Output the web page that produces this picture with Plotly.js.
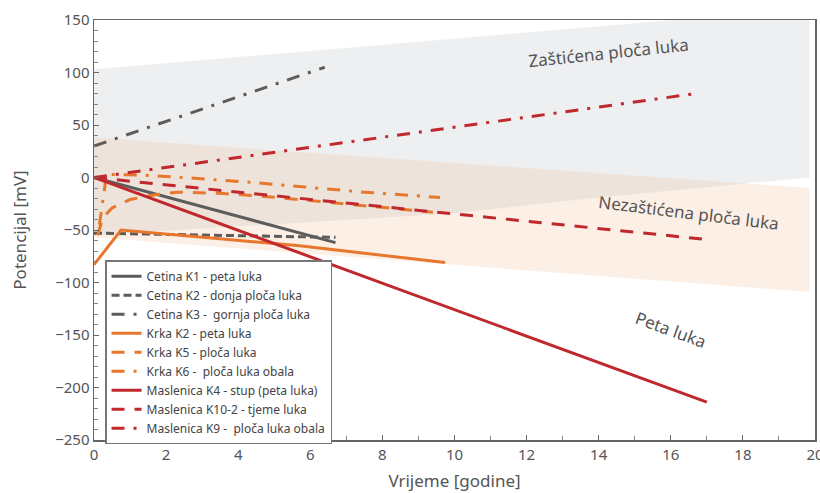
<!DOCTYPE html>
<html>
<head>
<meta charset="utf-8">
<script src="https://cdn.plot.ly/plotly-3.0.1.min.js"></script>
<style>html,body{margin:0;padding:0;background:#fff;}#chart{width:820px;height:493px;}</style>
</head>
<body>
<div id="chart"></div>
<script>
// Background zones
const zoneProtX = [0, 19.85, 19.85, 14, 10, 0];
const zoneProtY = [103, 161, 0, -19, -34, -55];
const zoneUnprotX = [0, 19.85, 19.85, 0];
const zoneUnprotY = [38, -10, -109, -57];

// Series
const cetinaK1X = [0, 6.7];
const cetinaK1Y = [0, -62];
const cetinaK2X = [0, 6.7];
const cetinaK2Y = [-53, -57];
const cetinaK3X = [0, 6.4];
const cetinaK3Y = [30, 105];
const krkaK2X = [0, 0.75, 5.7, 9.74];
const krkaK2Y = [-83, -50, -65, -81];
const krkaK5X = [0.1, 0.25, 0.5, 1, 1.6, 2.3, 3.5, 4.9, 6.3, 7.5, 8.8, 9.4];
const krkaK5Y = [-55, -38, -29, -21, -17, -14, -15, -18.5, -23, -27, -31, -33];
const krkaK6X = [0.15, 0.35, 1.5, 2.5, 4.5, 5.9, 7.5, 9.6];
const krkaK6Y = [-45, 3, 2, 0, -5, -9, -14, -19];
const maslK4X = [0, 17];
const maslK4Y = [0, -214];
const maslK10X = [0, 2.5, 4.3, 9.8, 17];
const maslK10Y = [0, -9, -15, -34, -59];
const maslK9X = [0, 16.7];
const maslK9Y = [0, 80];

const names = [
  'Cetina K1 - peta luka',
  'Cetina K2 - donja ploča luka',
  'Cetina K3 -  gornja ploča luka',
  'Krka K2 - peta luka',
  'Krka K5 - ploča luka',
  'Krka K6 -  ploča luka obala',
  'Maslenica K4 - stup (peta luka)',
  'Maslenica K10-2 - tjeme luka',
  'Maslenica K9 -  ploča luka obala'
];
const zoneLabels = ['Zaštićena ploča luka', 'Nezaštićena ploča luka', 'Peta luka'];

const GREY = '#5c5c5c', ORANGE = '#e8772e', RED = '#c0282d';
const W = 3;

function line(x, y, name, color, dash) {
  return {x: x, y: y, name: name, type: 'scatter', mode: 'lines',
    line: {color: color, width: W, dash: dash}, hoverinfo: 'skip'};
}

const traces = [
  {x: zoneProtX, y: zoneProtY, type: 'scatter', mode: 'lines', fill: 'toself',
   fillcolor: 'rgba(200,205,212,0.32)', line: {width: 0}, showlegend: false, hoverinfo: 'skip'},
  {x: zoneUnprotX, y: zoneUnprotY, type: 'scatter', mode: 'lines', fill: 'toself',
   fillcolor: 'rgba(244,190,150,0.25)', line: {width: 0}, showlegend: false, hoverinfo: 'skip'},
  line(cetinaK1X, cetinaK1Y, names[0], GREY, 'solid'),
  line(cetinaK2X, cetinaK2Y, names[1], GREY, '8px,4px'),
  line(cetinaK3X, cetinaK3Y, names[2], GREY, '13px,9px,3px,9px'),
  line(krkaK2X, krkaK2Y, names[3], ORANGE, 'solid'),
  line(krkaK5X, krkaK5Y, names[4], ORANGE, '13px,10px'),
  line(krkaK6X, krkaK6Y, names[5], ORANGE, '13px,9px,3px,9px'),
  line(maslK4X, maslK4Y, names[6], RED, 'solid'),
  line(maslK10X, maslK10Y, names[7], RED, '13px,10px'),
  line(maslK9X, maslK9Y, names[8], RED, '13px,9px,3px,9px')
];

const FONT = 'Noto Sans, Open Sans, sans-serif';
const layout = {
  width: 820, height: 493,
  margin: {l: 94, r: 5, t: 20, b: 53},
  paper_bgcolor: '#fff', plot_bgcolor: 'rgba(0,0,0,0)',
  font: {family: FONT, color: '#555'},
  showlegend: true,
  legend: {x: 0.0153, y: 0.428, xanchor: 'left', yanchor: 'top',
    bgcolor: '#fff', bordercolor: '#777', borderwidth: 1.5,
    font: {family: FONT, size: 12, color: '#444'}, tracegroupgap: 0},
  xaxis: {range: [0, 20], dtick: 2, tick0: 0, showgrid: false, zeroline: false,
    showline: true, linecolor: '#666', linewidth: 1.5, mirror: true,
    ticks: 'inside', ticklen: 5, tickcolor: '#666', ticklabeloverflow: 'allow',
    minor: {dtick: 1, ticks: 'inside', ticklen: 4, tickcolor: '#888', showgrid: false},
    tickfont: {size: 15, color: '#555'},
    title: {text: 'Vrijeme [godine]', font: {size: 17, color: '#555'}, standoff: 12}},
  yaxis: {range: [-250, 150], dtick: 50, showgrid: false, zeroline: false,
    showline: true, linecolor: '#666', linewidth: 1.5, mirror: true,
    ticks: 'inside', ticklen: 5, tickcolor: '#666',
    minor: {dtick: 10, ticks: 'inside', ticklen: 4, tickcolor: '#888', showgrid: false},
    tickfont: {size: 15, color: '#555'},
    title: {text: 'Potencijal [mV]', font: {size: 17, color: '#555'}, standoff: 24}},
  annotations: [
    {x: 14.26, y: 119.5, xref: 'x', yref: 'y', text: zoneLabels[0], showarrow: false,
     textangle: -6, font: {size: 17, color: '#555', family: FONT}},
    {x: 16.5, y: -33, xref: 'x', yref: 'y', text: zoneLabels[1], showarrow: false,
     textangle: 7, font: {size: 17, color: '#555', family: FONT}},
    {x: 16.0, y: -145, xref: 'x', yref: 'y', text: zoneLabels[2], showarrow: false,
     textangle: 20, font: {size: 17, color: '#555', family: FONT}}
  ]
};

Plotly.newPlot('chart', traces, layout, {displayModeBar: false, staticPlot: true});
</script>
</body>
</html>
